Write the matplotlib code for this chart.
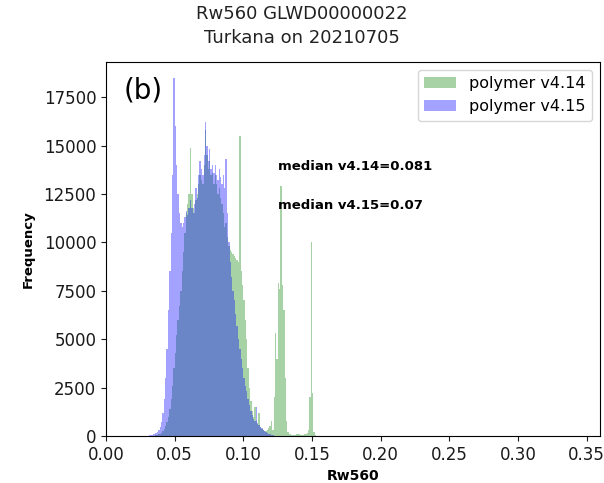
import numpy as np
import matplotlib
matplotlib.use("Agg")
import matplotlib.pyplot as plt

# Histogram bins: width 0.001 starting at 0.030
bin_start = 0.030
bin_width = 0.001

counts_v414 = [
    0, 0, 0, 0, 10, 20, 30, 50, 80, 120,                      # 0.030-0.039
    180, 250, 350, 500, 700, 1000, 1400, 1900, 2600, 3500,    # 0.040-0.049
    4300, 5200, 6000, 6700, 7500, 8500, 9500, 10500, 11500, 12000,  # 0.050-0.059
    12500, 14900, 12500, 11800, 11500, 12200, 12500, 13000, 13500, 13200,  # 0.060-0.069
    13000, 14000, 15800, 14500, 13800, 14200, 13500, 13600, 13000, 13500,  # 0.070-0.079
    13000, 12500, 12800, 12300, 12000, 11500, 10800, 11000, 10300, 9800,   # 0.080-0.089
    9600, 9500, 9400, 9300, 9200, 9100, 9000, 15500, 8500, 7800,           # 0.090-0.099
    7000, 6000, 5000, 3500, 2500, 1800, 1300, 1000, 1500, 800,             # 0.100-0.109
    600, 1200, 450, 350, 300, 250, 250, 300, 400, 500,                     # 0.110-0.119
    800, 300, 2000, 5300, 4000, 7900, 7600, 12900, 7800, 6500,             # 0.120-0.129
    3000, 800, 200, 100, 80, 60, 60, 60, 80, 100,                          # 0.130-0.139
    80, 60, 60, 60, 80, 100, 150, 300, 2000, 10000,                        # 0.140-0.149
    2200, 200, 50, 20, 0, 0, 0, 0, 0, 0,                                   # 0.150-0.159
]

counts_v415 = [
    20, 30, 40, 60, 80, 110, 150, 200, 300, 450,                           # 0.030-0.039
    700, 1200, 1900, 3000, 4500, 6500, 8500, 10500, 13500, 18500,          # 0.040-0.049
    16000, 14000, 12500, 11500, 11000, 10800, 11000, 11300, 11600, 11400,  # 0.050-0.059
    11800, 12200, 11800, 11500, 12000, 12800, 12300, 13500, 14200, 13800,  # 0.060-0.069
    13500, 14500, 16200, 15000, 14200, 14800, 13800, 14000, 13600, 14000,  # 0.070-0.079
    13500, 13200, 13800, 13400, 13000, 13500, 12800, 14300, 11500, 10000,  # 0.080-0.089
    9000, 8200, 7500, 7000, 6300, 5700, 5000, 4500, 4000, 3500,            # 0.090-0.099
    3000, 2600, 2300, 1900, 1600, 1300, 1100, 900, 800, 1500,              # 0.100-0.109
    650, 550, 450, 400, 320, 260, 200, 160, 120, 90,                       # 0.110-0.119
    60, 40, 25, 15, 0, 0, 0, 0, 0, 0,                                      # 0.120-0.129
    0, 0, 0, 0, 0, 0, 0, 0, 0, 0,                                          # 0.130-0.139
    0, 0, 0, 0, 0, 0, 0, 0, 0, 0,                                          # 0.140-0.149
    0, 0, 0, 0, 0, 0, 0, 0, 0, 0,                                          # 0.150-0.159
]

labels = ["polymer v4.14", "polymer v4.15"]
median_texts = ["median v4.14=0.081", "median v4.15=0.07"]
x_ticks = [0.00, 0.05, 0.10, 0.15, 0.20, 0.25, 0.30, 0.35]
y_ticks = [0, 2500, 5000, 7500, 10000, 12500, 15000, 17500]
title_lines = ["Rw560 GLWD00000022", "Turkana on 20210705"]

n = len(counts_v414)
edges = bin_start + bin_width * np.arange(n + 1)
centers = 0.5 * (edges[:-1] + edges[1:])

fig = plt.figure(figsize=(6.04, 4.83), dpi=100)
ax = fig.add_axes([0.1755, 0.0973, 0.8175, 0.7743])

ax.hist(centers, bins=edges, weights=counts_v414, color="green", alpha=0.35,
        histtype="stepfilled", linewidth=0, label=labels[0])
ax.hist(centers, bins=edges, weights=counts_v415, color="blue", alpha=0.36,
        histtype="stepfilled", linewidth=0, label=labels[1])

ax.set_xlim(0, 0.3595)
ax.set_ylim(0, 19318)
ax.set_xticks(x_ticks)
ax.set_xticklabels([f"{t:.2f}" for t in x_ticks])
ax.set_yticks(y_ticks)
ax.tick_params(labelsize=12, colors="#1a1a1a")

ax.set_xlabel("Rw560", fontsize=10, fontweight="bold", labelpad=4)
ax.set_ylabel("Frequency", fontsize=9.5, fontweight="bold", labelpad=6)

ax.text(0.125, 13900, median_texts[0], fontsize=9.5, fontweight="bold", va="center")
ax.text(0.125, 11930, median_texts[1], fontsize=9.5, fontweight="bold", va="center")
ax.text(0.035, 0.925, "(b)", transform=ax.transAxes, fontsize=20, va="center")

ax.legend(loc="upper right", fontsize=11.5, handlelength=2.0)

fig.text(0.5, 0.972, title_lines[0], ha="center", va="center", fontsize=13, color="#222222")
fig.text(0.5, 0.922, title_lines[1], ha="center", va="center", fontsize=13, color="#222222")

fig.savefig("out.png", dpi=100)
